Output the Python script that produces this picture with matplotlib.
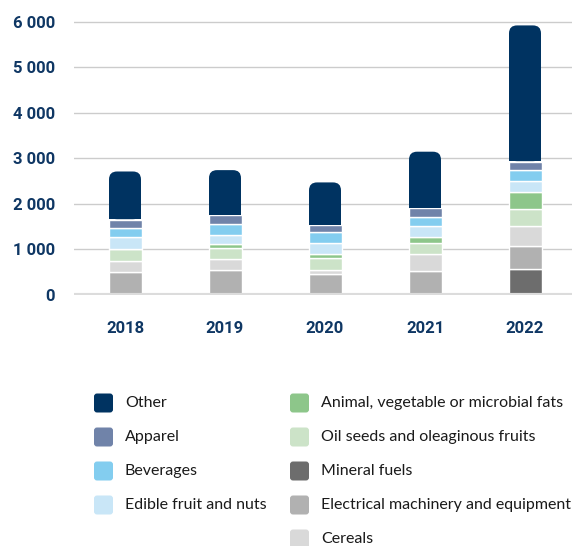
import matplotlib.pyplot as plt
from matplotlib.patches import FancyBboxPatch, Rectangle
from matplotlib.transforms import IdentityTransform

# Data
years = ['2018', '2019', '2020', '2021', '2022']
mineral_fuels = [0, 0, 0, 0, 570]
electrical = [500, 560, 470, 520, 515]
cereals = [245, 230, 90, 385, 425]
oil_seeds = [255, 245, 255, 245, 380]
animal_fats = [20, 95, 90, 125, 375]
edible_fruit = [260, 190, 240, 250, 235]
beverages = [190, 245, 230, 180, 240]
apparel = [185, 185, 155, 200, 190]
other = [1070, 1005, 955, 1255, 3005]

series = [
    ('Mineral fuels', mineral_fuels, '#6d6d6d'),
    ('Electrical machinery and equipment', electrical, '#b1b1b1'),
    ('Cereals', cereals, '#d9d9d9'),
    ('Oil seeds and oleaginous fruits', oil_seeds, '#cce3c8'),
    ('Animal, vegetable or microbial fats', animal_fats, '#8dc68a'),
    ('Edible fruit and nuts', edible_fruit, '#c9e6f7'),
    ('Beverages', beverages, '#83cdef'),
    ('Apparel', apparel, '#7083a9'),
    ('Other', other, '#003361'),
]

navy = '#0f3764'
tick_font = 'Roboto'
legend_font = ['Lato', 'DejaVu Sans']

fig = plt.figure(figsize=(5.72, 5.46), dpi=100)
ax = fig.add_axes([74 / 572, 251 / 546, 498 / 572, 277.6 / 546])
ax.set_xlim(-0.51, 4.47)
ax.set_ylim(0, 6100)

x = list(range(len(years)))
width = 0.33
bottoms = [0] * len(years)
for name, vals, color in series:
    bars = ax.bar(x, vals, width, bottom=bottoms, color=color,
                  edgecolor='white', linewidth=1, zorder=3)
    if name == 'Other':
        # redraw the top segment in pixel units with rounded top corners
        for bar in bars:
            x0, y0 = ax.transData.transform((bar.get_x(), bar.get_y()))
            x1, y1 = ax.transData.transform((bar.get_x() + bar.get_width(),
                                             bar.get_y() + bar.get_height()))
            x0, x1, y0, y1 = x0 + 0.5, x1 - 0.5, y0 + 0.5, y1 - 0.5
            top = FancyBboxPatch((x0, y0), x1 - x0, y1 - y0,
                                 boxstyle='round,pad=0,rounding_size=8',
                                 transform=IdentityTransform(),
                                 facecolor=color, edgecolor='none', zorder=3.2)
            # square bottom corners
            low = Rectangle((x0, y0), x1 - x0, 20,
                            transform=IdentityTransform(), facecolor=color,
                            edgecolor='none', zorder=3.1)
            ax.add_patch(low)
            ax.add_patch(top)
            bar.set_visible(False)
    bottoms = [b + v for b, v in zip(bottoms, vals)]

ax.set_yticks(range(0, 7000, 1000))
ax.set_yticklabels([f'{v:,}'.replace(',', ' ') for v in range(0, 7000, 1000)])
ax.set_xticks(x)
ax.set_xticklabels(years)

ax.grid(axis='y', color='#cccccc', linewidth=1, zorder=0)
ax.axhline(0, color='#dcdcdc', linewidth=3, zorder=4)
for s in ax.spines.values():
    s.set_visible(False)
ax.tick_params(length=0)
ax.tick_params(axis='y', pad=13.5)
ax.tick_params(axis='x', pad=19)
for lab in ax.get_yticklabels() + ax.get_xticklabels():
    lab.set_fontfamily(tick_font)
    lab.set_fontweight('bold')
    lab.set_fontsize(12)
    lab.set_color(navy)

# Legend, laid out in two columns like the reference
lax = fig.add_axes([0, 0, 1, 1])
lax.set_xlim(0, 572)
lax.set_ylim(546, 0)
lax.axis('off')
colors = {name: color for name, _, color in series}
col1 = ['Other', 'Apparel', 'Beverages', 'Edible fruit and nuts']
col2 = ['Animal, vegetable or microbial fats', 'Oil seeds and oleaginous fruits',
        'Mineral fuels', 'Electrical machinery and equipment', 'Cereals']
for col, x0 in [(col1, 94), (col2, 290)]:
    for j, name in enumerate(col):
        yc = 403 + j * 34
        lax.add_patch(FancyBboxPatch((x0, yc - 9.5), 19, 19,
                                     boxstyle='round,pad=0,rounding_size=3',
                                     facecolor=colors[name], edgecolor='none'))
        lax.text(x0 + 31, yc, name, va='center', ha='left', fontsize=11.5,
                 family=legend_font, color='#1a1a1a')

fig.savefig('out.png', dpi=100)
